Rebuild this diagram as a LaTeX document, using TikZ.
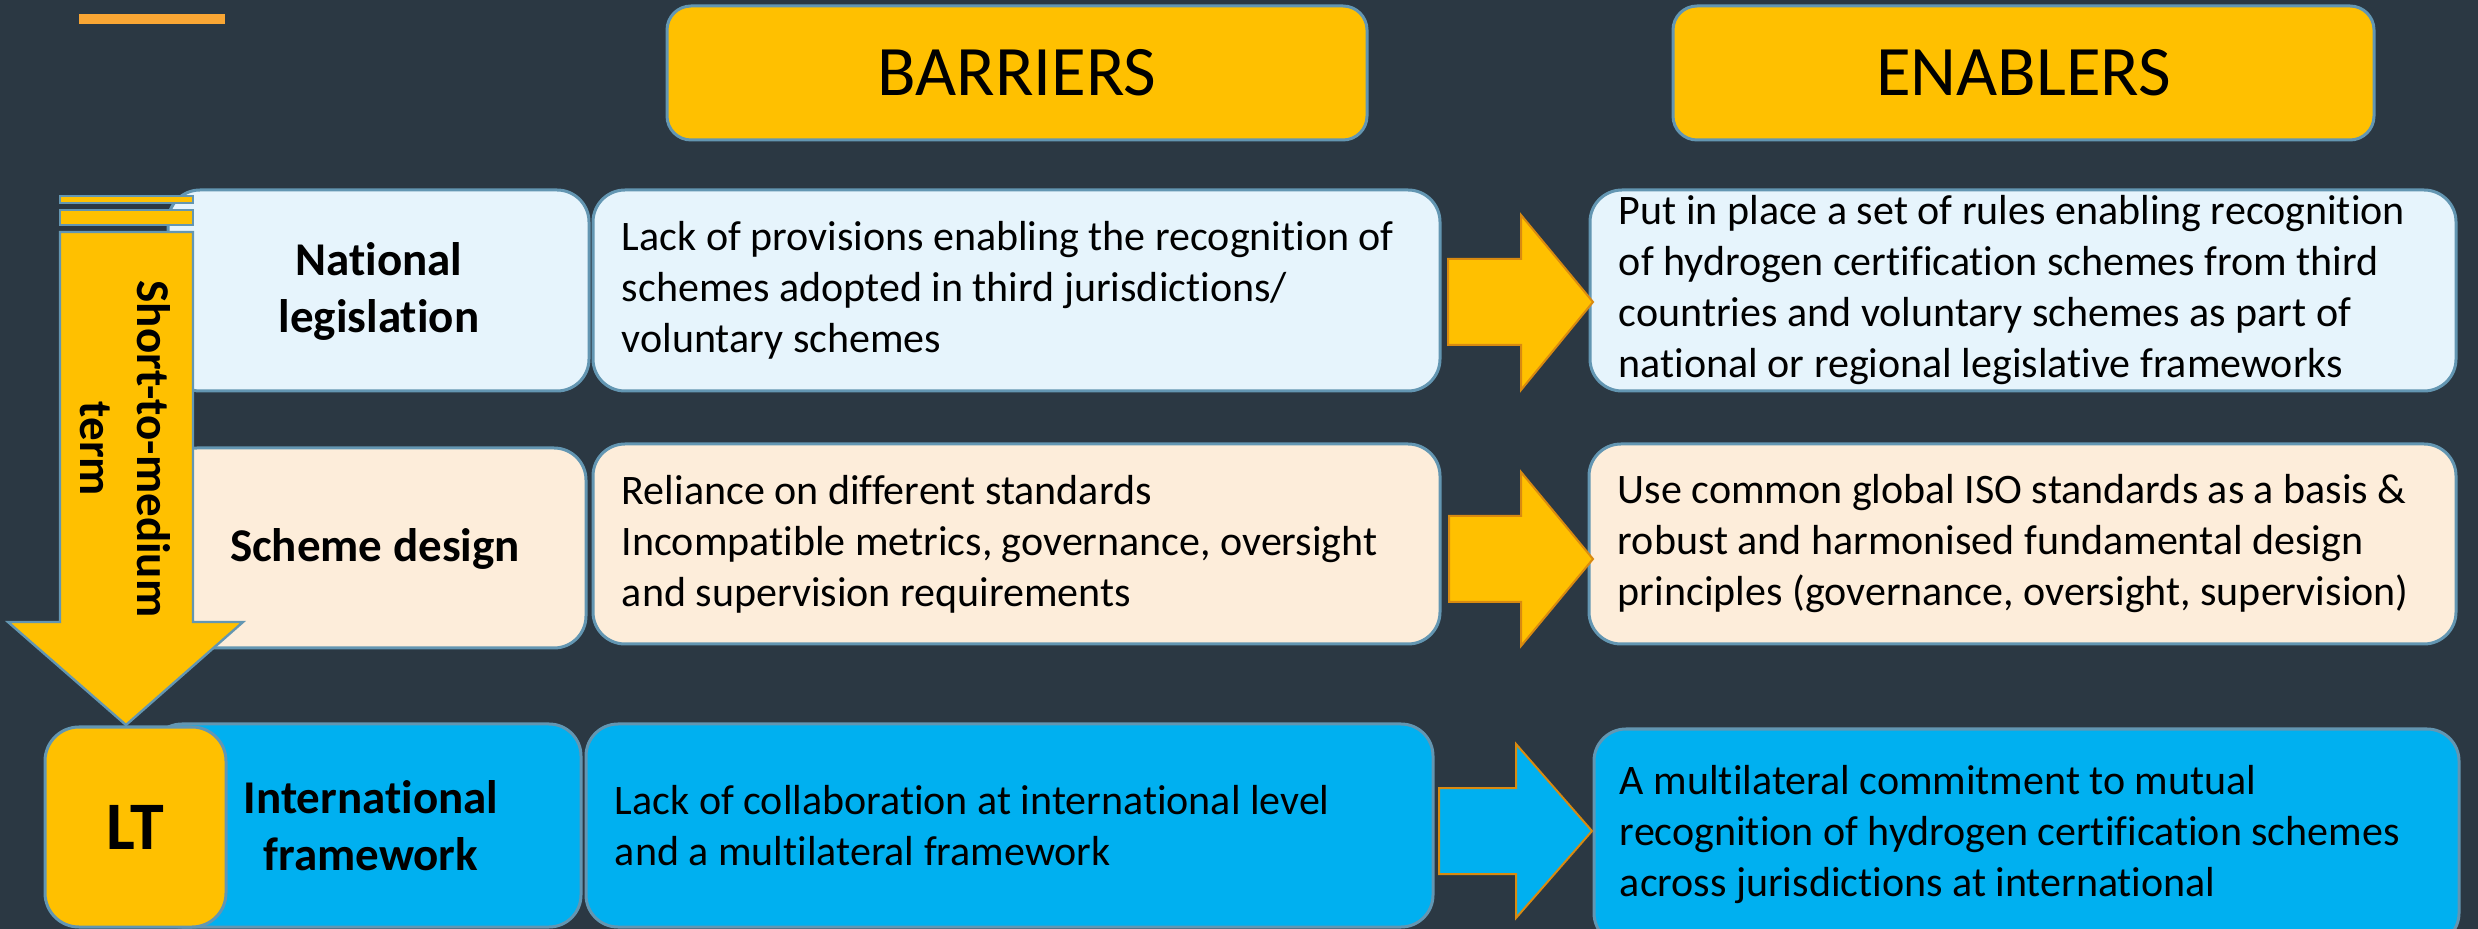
\documentclass[tikz,border=0pt]{standalone}
\usepackage{fontspec}
\setmainfont{Carlito}[RawFeature={-liga;-clig;-calt}]
\definecolor{bg}{HTML}{2B3843}
\definecolor{gold}{HTML}{FFC000}
\definecolor{edge}{HTML}{6396B2}
\definecolor{rowA}{HTML}{E6F4FC}
\definecolor{rowB}{HTML}{FDEDDA}
\definecolor{rowC}{HTML}{00B0F0}
\definecolor{arredge}{HTML}{D98A10}
\definecolor{topbar}{HTML}{F9A634}
\begin{document}
\begin{tikzpicture}[x=0.5pt,y=-0.5pt,
  panel/.style={draw=edge, line width=1.5pt, rounded corners=16pt, inner sep=0pt},
  hdr/.style={panel, fill=gold, rounded corners=12pt, font=\fontsize{35.5pt}{42pt}\selectfont},
  lbl/.style={font=\bfseries\fontsize{23.5pt}{28.5pt}\selectfont, align=center, inner sep=0pt},
  body/.style={font=\fontsize{21pt}{25.5pt}\selectfont, align=left, inner sep=0pt, anchor=west},
  blk/.style={fill=gold, draw=arredge, line width=1pt, line join=miter},
  tagbox/.style={panel, fill=gold, rounded corners=17pt, font=\bfseries\fontsize{34pt}{40pt}\selectfont}
]
\useasboundingbox (0,0) rectangle (2478,929);
\clip (0,0) rectangle (2478,929);
\fill[bg] (0,0) rectangle (2478,929);
\fill[topbar] (79,14) rectangle (225,24);

% headers
\node[hdr, minimum width=350pt, minimum height=67pt] (hdrB) at (1017,73) {BARRIERS};
\node[hdr, minimum width=350.5pt, minimum height=67pt] (hdrE) at (2023.5,73) {ENABLERS};

% row boxes
\node[panel, fill=rowA, minimum width=210.5pt, minimum height=100.5pt] (labA) at (378.5,290.5) {};
\node[panel, fill=rowA, minimum width=423.5pt, minimum height=100.5pt] (barA) at (1016.5,290.5) {};
\node[panel, fill=rowA, minimum width=433pt, minimum height=100.5pt] (enbA) at (2023,290.5) {};

\node[panel, fill=rowB, minimum width=210.5pt, minimum height=100pt] (labB) at (375.5,548) {};
\node[panel, fill=rowB, minimum width=423.5pt, minimum height=100pt] (barB) at (1016.5,544) {};
\node[panel, fill=rowB, minimum width=433.5pt, minimum height=100pt] (enbB) at (2022.5,544) {};

\node[panel, fill=rowC, minimum width=215.5pt, minimum height=101.5pt] (labC) at (365.5,825.5) {};
\node[panel, fill=rowC, minimum width=423.5pt, minimum height=101.5pt] (barC) at (1009.5,825.5) {};
\node[panel, fill=rowC, minimum width=432.5pt, minimum height=108pt] (enbC) at (2026.5,837) {};

% block arrows
\draw[blk] (1448,259) -- (1521,259) -- (1521,215) -- (1593,302) -- (1521,390) -- (1521,345) -- (1448,345) -- cycle;
\draw[blk] (1449,516) -- (1521,516) -- (1521,472) -- (1593,559) -- (1521,646) -- (1521,602) -- (1449,602) -- cycle;
\draw[blk, fill=rowC] (1439,788) -- (1516,788) -- (1516,744) -- (1592,831) -- (1516,918) -- (1516,874) -- (1439,874) -- cycle;

% time arrow
\draw[fill=gold, draw=edge, line width=1.2pt] (60,196) rectangle (193,203);
\draw[fill=gold, draw=edge, line width=1.2pt] (60,210) rectangle (193,225);
\draw[fill=gold, draw=edge, line width=1.2pt, line join=miter] (60,232) -- (193,232) -- (193,622) -- (243,622) -- (126,725) -- (8,622) -- (60,622) -- cycle;
\node[lbl, rotate=-90] (stm) at (125,449) {Short-to-medium\\term};
\node[tagbox, minimum width=90.5pt, minimum height=100pt] (lt) at (135.5,827) {LT};

% label texts
\node[lbl] (tlabA) at (379,291) {National\\legislation};
\node[lbl] (tlabB) at (375,549) {Scheme design};
\node[lbl] (tlabC) at (371,826) {International\\framework};

% body texts
\node[body] (tbarA) at ([xshift=15pt]barA.west) {Lack of provisions enabling the recognition of\\schemes adopted in third jurisdictions/\\voluntary schemes};
\node[body] (tenbA) at ([xshift=15pt]enbA.west) {Put in place a set of rules enabling recognition\\of hydrogen certification schemes from third\\countries and voluntary schemes as part of\\national or regional legislative frameworks};
\node[body] (tbarB) at ([xshift=15pt]barB.west) {Reliance on different standards\\Incompatible metrics, governance, oversight\\and supervision requirements};
\node[body] (tenbB) at ([xshift=15pt]enbB.west) {Use common global ISO standards as a basis \&\\robust and harmonised fundamental design\\principles (governance, oversight, supervision)};
\node[body] (tbarC) at ([xshift=15pt]barC.west) {Lack of collaboration at international level\\and a multilateral framework};
\node[body] (tenbC) at ([xshift=13.5pt, yshift=1pt]enbC.west) {A multilateral commitment to mutual\\recognition of hydrogen certification schemes\\across jurisdictions at international};
\end{tikzpicture}
\end{document}
